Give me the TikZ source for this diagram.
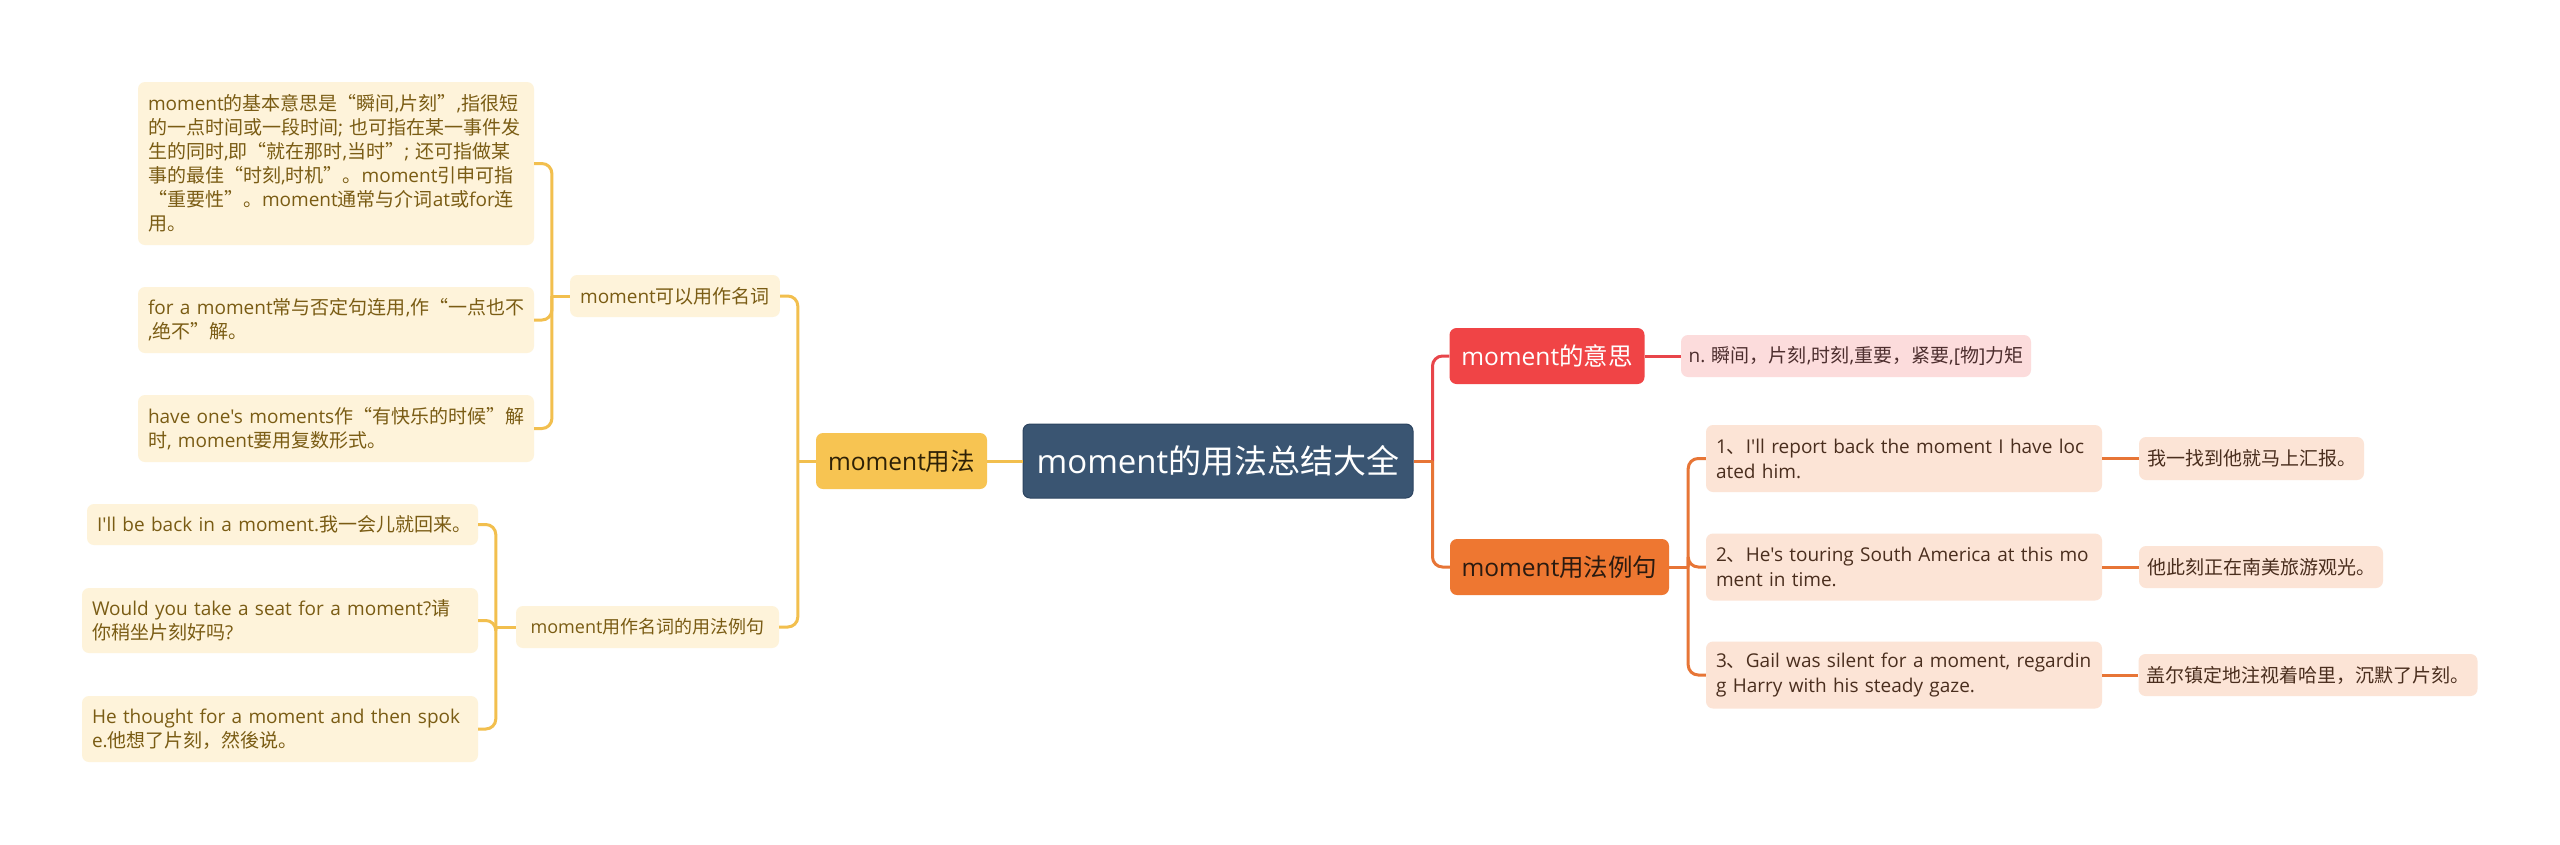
\documentclass[tikz,border=0pt]{standalone}
\usepackage{fontspec}
\setmainfont{Open Sans}[Ligatures=TeXOff]
\newfontfamily\latinf{Open Sans}[Ligatures=TeXOff]
\newfontfamily\cjkf{Noto Sans CJK SC}[Ligatures=TeXOff]
\usetikzlibrary{calc}
% automatic switch between Latin and CJK fonts
\def\curlat{\latinf}
\def\curcjk{\cjkf}
\chardef\CJKcls=7
\newcount\cjkcnt
\def\setcjkrange#1#2{\cjkcnt=#1\relax
  \loop
    \XeTeXcharclass\cjkcnt=\CJKcls
  \ifnum\cjkcnt<#2\relax
    \advance\cjkcnt by 1
  \repeat}
\setcjkrange{"4E00}{"9FFF}
\setcjkrange{"3000}{"303F}
\setcjkrange{"FF00}{"FFEF}
\XeTeXcharclass"201C=\CJKcls
\XeTeXcharclass"201D=\CJKcls
\XeTeXinterchartokenstate=1
\XeTeXinterchartoks 0 \CJKcls = {\curcjk}
\XeTeXinterchartoks 4095 \CJKcls = {\curcjk}
\XeTeXinterchartoks \CJKcls 0 = {\curlat}
\newcommand\oneline[1]{\mbox{#1}}
\definecolor{rootc}{HTML}{3A5572}
\definecolor{rootb}{HTML}{2C4460}
\definecolor{goldl}{HTML}{F2BF4E}
\definecolor{usec}{HTML}{F7C452}
\definecolor{usetext}{HTML}{2E2106}
\definecolor{lfill}{HTML}{FEF3DA}
\definecolor{ltext}{HTML}{7A5C14}
\definecolor{redc}{HTML}{F04446}
\definecolor{redl}{HTML}{E8454A}
\definecolor{orc}{HTML}{EE7731}
\definecolor{orl}{HTML}{E77536}
\definecolor{ortext}{HTML}{2A1A10}
\definecolor{pinkc}{HTML}{FCDCDC}
\definecolor{pinktext}{HTML}{4D2E2E}
\definecolor{peachc}{HTML}{FCE4D6}
\definecolor{peachtext}{HTML}{4A2E1E}
\begin{document}
\begin{tikzpicture}[x=1pt,y=-1pt,
  box/.style={rounded corners=7pt, inner sep=0pt, anchor=center},
  lbox/.style={box, fill=lfill, text=ltext, align=left, inner xsep=10pt, font=\fontsize{19}{24}\selectfont},
  exbox/.style={box, fill=peachc, text=peachtext, align=left, inner xsep=10pt, font=\fontsize{19}{25}\selectfont},
  trbox/.style={box, fill=peachc, text=peachtext, font=\fontsize{19}{24}\selectfont},
  mainbox/.style={box, minimum height=56pt, font=\fontsize{24.5}{30}\selectfont},
  gline/.style={draw=goldl, line width=3pt},
  rline/.style={draw=redl, line width=3pt},
  oline/.style={draw=orl, line width=3pt},
  rc/.style={rounded corners=10pt}
]
\path[fill=white] (0,0) rectangle (2560,844);

% central and main branches
\node[box, fill=rootc, draw=rootb, line width=1pt, text=white, minimum width=390pt, minimum height=74pt,
  font=\fontsize{33}{40}\selectfont] (root) at (1218,461) {moment的用法总结大全};
\node[mainbox, fill=usec, text=usetext, minimum width=171pt] (use) at (901.5,461) {moment用法};
\node[mainbox, fill=redc, text=white, minimum width=195pt] (meaning) at (1547,356) {moment的意思};
\node[mainbox, fill=orc, text=ortext, minimum width=219pt] (examples) at (1559.5,567) {moment用法例句};

% right side
\node[box, fill=pinkc, text=pinktext, minimum width=350pt, minimum height=42pt,
  font=\fontsize{19}{24}\selectfont] (def) at (1856,356) {n. 瞬间，片刻,时刻,重要，紧要,[物]力矩};
\node[exbox, text width=376pt, minimum height=67pt] (ex1) at (1904,458.5)
  {\oneline{1、I'll report back the moment I have loc}\\\oneline{ated him.}};
\node[exbox, text width=376pt, minimum height=67pt] (ex2) at (1904,567)
  {\oneline{2、He's touring South America at this mo}\\\oneline{ment in time.}};
\node[exbox, text width=376pt, minimum height=67pt] (ex3) at (1904,675)
  {\oneline{3、Gail was silent for a moment, regardin}\\\oneline{g Harry with his steady gaze.}};
\node[trbox, minimum width=225pt, minimum height=43pt] (tr1) at (2251.5,458.5) {我一找到他就马上汇报。};
\node[trbox, minimum width=244pt, minimum height=42pt] (tr2) at (2261,567) {他此刻正在南美旅游观光。};
\node[trbox, minimum width=339pt, minimum height=42pt] (tr3) at (2308,675) {盖尔镇定地注视着哈里，沉默了片刻。};

% left side, level 2
\node[lbox, minimum width=208pt, minimum height=42pt] (n1) at (675,296) {moment可以用作名词};
\node[lbox, minimum width=263pt, minimum height=42pt, font=\fontsize{18}{22}\selectfont] (n2) at (647.5,627) {moment用作名词的用法例句};

% left side, level 3
\node[lbox, text width=376pt, minimum height=163pt] (a1) at (336,163.5)
  {\oneline{moment的基本意思是“瞬间,片刻”,指很短}\\
   \oneline{的一点时间或一段时间; 也可指在某一事件发}\\
   \oneline{生的同时,即“就在那时,当时”; 还可指做某}\\
   \oneline{事的最佳“时刻,时机”。moment引申可指}\\
   \oneline{“重要性”。moment通常与介词at或for连}\\
   \oneline{用。}};
\node[lbox, text width=376pt, minimum height=66pt] (a2) at (336,320)
  {\oneline{for a moment常与否定句连用,作“一点也不}\\\oneline{,绝不”解。}};
\node[lbox, text width=376pt, minimum height=67pt] (a3) at (336,428.5)
  {\oneline{have one's moments作“有快乐的时候”解}\\\oneline{时, moment要用复数形式。}};
\node[lbox, text width=371pt, minimum height=41pt] (b1) at (282.5,524.5)
  {\oneline{I'll be back in a moment.我一会儿就回来。}};
\node[lbox, text width=376pt, minimum height=65pt] (b2) at (280,620.5)
  {\oneline{Would you take a seat for a moment?请}\\\oneline{你稍坐片刻好吗?}};
\node[lbox, text width=376pt, minimum height=66pt] (b3) at (280,729)
  {\oneline{He thought for a moment and then spok}\\\oneline{e.他想了片刻，然後说。}};

% junctions
\coordinate (jL) at ($(use.west)+(-18,0)$);
\coordinate (jA) at ($(n1.west)+(-18,0)$);
\coordinate (jB) at ($(n2.west)+(-20,0)$);
\coordinate (jR) at ($(root.east)+(19,0)$);
\coordinate (jE) at ($(examples.east)+(19,0)$);

% connectors, left
\draw[gline] (root.west) -- (use.east);
\draw[gline] (use.west) -- (jL);
\draw[gline, rc] (jL) |- (n1.east);
\draw[gline, rc] (jL) |- (n2.east);
\draw[gline] (n1.west) -- (jA);
\draw[gline, rc] (jA) |- (a1.east);
\draw[gline, rc] (jA) |- (a2.east);
\draw[gline, rc] (jA) |- (a3.east);
\draw[gline] (n2.west) -- (jB);
\draw[gline, rc] (jB) |- (b1.east);
\draw[gline, rc] (jB) |- (b2.east);
\draw[gline, rc] (jB) |- (b3.east);

% connectors, right
\draw[rline, rc] (jR) |- (meaning.west);
\draw[oline, rc] (jR) |- (examples.west);
\draw[oline] (root.east) -- (jR);
\draw[rline] (meaning.east) -- (def.west);
\draw[oline] (examples.east) -- (jE);
\draw[oline, rc] (jE) |- (ex1.west);
\draw[oline, rc] (jE) |- (ex2.west);
\draw[oline, rc] (jE) |- (ex3.west);
\draw[oline] (ex1.east) -- (tr1.west);
\draw[oline] (ex2.east) -- (tr2.west);
\draw[oline] (ex3.east) -- (tr3.west);
\end{tikzpicture}
\end{document}
